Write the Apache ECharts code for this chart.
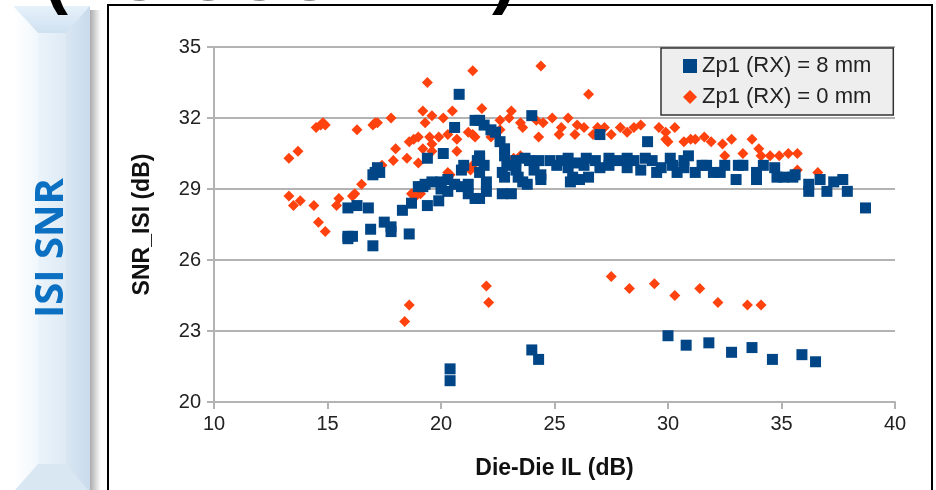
<!DOCTYPE html>
<html>
<head>
<meta charset="utf-8">
<script src="https://cdn.jsdelivr.net/npm/echarts@6/dist/echarts.min.js"></script>
<style>
html,body{margin:0;padding:0;background:#fff;}
#c{width:936px;height:490px;}
</style>
</head>
<body>
<div id="c"></div>
<script>
// ---- data (x = Die-Die IL dB, y = SNR_ISI dB) ----
var seriesNames = ['Zp1 (RX) = 8 mm', 'Zp1 (RX) = 0 mm'];
var xTicks = [10, 15, 20, 25, 30, 35, 40];
var yTicks = [20, 23, 26, 29, 32, 35];
var sideLabel = 'ISI SNR';
var titleText = '· (ZC SCUNNN)';
var xName = 'Die-Die IL (dB)';
var yName = 'SNR_ISI (dB)';

var zp8 = [
 [15.9,28.2],[16.3,28.3],[16.8,28.2],[18.3,28.1],[18.7,28.4],
 [15.9,27.0],[15.9,26.9],[16.1,27.0],[16.9,27.3],[17.0,26.6],
 [17.5,27.6],[17.8,27.4],[17.8,27.2],[18.6,27.1],
 [17.2,29.9],[17.1,29.7],[17.3,29.7],[17.0,29.6],
 [19.4,30.3],[20.1,30.5],
 [19.2,29.1],[19.0,29.1],[19.3,29.2],[19.6,29.3],[20.0,29.3],[20.3,29.4],
 [19.4,28.3],[19.9,28.5],[20.0,29.0],[20.3,28.9],
 [20.8,33.0],[21.5,31.9],[20.6,31.6],
 [21.0,30.0],[20.9,29.8],[21.6,30.2],[21.7,30.4],
 [20.6,29.2],[20.9,29.1],[21.2,29.2],[21.2,28.8],[21.5,28.6],[21.7,28.6],
 [21.7,31.9],[21.9,31.7],[22.2,31.5],[22.4,31.4],[24.0,32.1],
 [27.0,31.3],[29.1,31.0],
 [22.6,31.0],[22.8,30.7],
 [21.7,30.3],[21.9,30.0],[21.7,29.7],
 [22.8,30.4],[22.9,30.0],[22.7,29.7],[22.8,29.5],
 [23.3,30.2],[23.3,29.8],[23.4,29.5],[23.6,29.3],[23.8,29.2],[23.7,30.3],
 [23.9,30.2],[24.3,30.2],[24.1,29.8],[24.4,29.6],[24.4,29.4],
 [24.8,30.2],[25.1,30.0],[25.3,30.2],[25.6,30.3],[25.6,29.9],[25.7,29.3],[25.8,29.5],
 [26.0,30.1],[26.3,30.0],[26.4,30.3],[26.5,29.5],[26.1,29.4],
 [26.8,30.2],[27.0,29.9],[27.4,30.3],[27.4,30.0],[27.8,30.2],
 [28.2,30.3],[28.2,29.9],[28.5,30.2],[28.8,29.8],[29.0,30.3],[29.3,30.2],[29.5,29.7],[29.7,29.9],
 [30.1,30.3],[30.2,30.0],[30.4,29.7],[30.7,30.2],[30.9,30.4],[30.7,29.9],
 [31.2,29.7],[31.5,30.0],[31.7,30.0],[32.0,29.7],[32.3,29.7],[32.5,30.0],
 [33.0,29.4],[33.1,30.0],[33.3,30.0],[33.9,29.7],[34.2,30.0],[33.9,29.4],
 [34.7,29.9],[34.8,29.5],[35.1,29.5],[35.5,29.5],[35.6,29.6],
 [36.2,29.2],[36.2,28.9],[36.7,29.4],[37.0,28.9],[37.3,29.3],[37.7,29.4],[37.9,28.9],
 [38.7,28.2],
 [22.0,29.3],[22.7,28.8],[23.1,28.8],[22.0,28.9],
 [20.4,21.4],[20.4,20.9],[24.0,22.2],[24.3,21.8],[30.0,22.8],[30.8,22.4],[31.8,22.5],
 [32.8,22.1],[33.7,22.3],[34.6,21.8],[35.9,22.0],[36.5,21.7]
];

var zp0 = [
 [13.3,30.3],[13.7,30.6],[14.5,31.6],[14.7,31.7],[14.8,31.8],[14.9,31.7],
 [13.3,28.7],[13.5,28.3],[13.8,28.5],[14.4,28.3],[14.6,27.6],[14.9,27.2],
 [15.5,28.6],[15.4,28.3],[16.1,28.7],[16.2,28.8],[16.5,29.2],
 [16.3,31.5],[17.0,31.7],[17.1,31.8],[17.2,31.8],[17.8,32.0],
 [17.4,30.0],[17.9,30.2],[18.0,30.7],[18.5,30.3],
 [18.6,31.0],[18.8,31.1],[19.0,31.2],[19.0,30.1],[19.2,30.7],
 [19.4,33.5],[19.2,32.3],[19.3,31.8],[19.6,32.1],[20.1,32.0],
 [19.5,31.2],[19.6,30.9],[19.9,31.2],[20.3,31.3],[19.6,30.6],
 [18.7,28.8],[18.9,28.7],[19.1,28.8],[20.3,29.7],
 [21.4,34.0],[20.5,32.3],[21.8,32.4],
 [20.7,31.1],[20.7,30.6],[21.2,31.4],[21.5,31.2],[21.4,31.3],
 [22.2,31.2],[22.6,31.5],[22.6,31.9],[23.0,32.0],[23.1,32.3],[23.5,31.8],[23.6,31.6],
 [24.2,31.9],[24.5,31.8],[24.9,32.0],[24.3,31.2],
 [24.4,34.2],[26.5,33.0],
 [25.6,32.0],[25.3,31.6],[25.2,31.3],[26.0,31.7],[26.3,31.6],[25.9,31.3],[26.7,31.3],
 [26.9,31.6],[27.2,31.6],[27.5,31.3],[27.9,31.6],[28.2,31.4],[28.5,31.6],[28.8,31.7],
 [29.6,31.6],[29.9,31.1],[29.9,31.4],[30.3,31.6],[30.0,31.0],
 [30.7,31.0],[31.0,31.1],[31.2,31.1],[31.6,31.2],[31.9,31.0],[32.4,30.9],[32.5,30.4],
 [32.8,31.1],[33.3,30.5],[33.7,31.1],[34.0,30.7],[34.1,30.4],[34.5,30.4],[34.9,30.4],
 [35.3,30.5],[35.7,30.5],[35.7,29.8],[36.6,29.7],
 [23.5,30.4],[23.2,30.3],[21.6,30.2],[21.4,30.0],[21.3,29.8],[20.4,29.6],
 [18.4,23.4],[18.6,24.1],[22.0,24.9],[22.1,24.2],[27.5,25.3],[28.3,24.8],[29.4,25.0],
 [30.3,24.5],[31.4,24.8],[32.2,24.2],[33.5,24.1],[34.1,24.1]
];

var chart = echarts.init(document.getElementById('c'), null, {renderer: 'canvas'});
var gridCol = '#b3b3b3';
var option = {
  animation: false,
  backgroundColor: '#ffffff',
  grid: {left: 214, right: 41, top: 47, bottom: 88, containLabel: false},
  xAxis: {
    type: 'value', min: xTicks[0], max: xTicks[xTicks.length - 1], interval: 5,
    name: xName, nameLocation: 'middle', nameGap: 55,
    nameTextStyle: {fontFamily: 'Liberation Sans', fontWeight: 'bold', fontSize: 23, color: '#111'},
    axisLine: {show: true, lineStyle: {color: gridCol, width: 2}},
    axisTick: {show: true, length: 7, lineStyle: {color: gridCol, width: 2}},
    axisLabel: {fontFamily: 'Liberation Sans', fontSize: 20, color: '#222', margin: 12},
    splitLine: {show: false}
  },
  yAxis: {
    type: 'value', min: yTicks[0], max: yTicks[yTicks.length - 1], interval: 3,
    name: yName, nameLocation: 'middle', nameGap: 60, nameRotate: 90,
    nameTextStyle: {fontFamily: 'Liberation Sans', fontWeight: 'bold', fontSize: 23, color: '#111'},
    axisLine: {show: true, lineStyle: {color: gridCol, width: 2}},
    axisTick: {show: true, length: 7, lineStyle: {color: gridCol, width: 2}},
    axisLabel: {fontFamily: 'Liberation Sans', fontSize: 20, color: '#222', margin: 13},
    splitLine: {show: true, lineStyle: {color: gridCol, width: 2}}
  },
  legend: {
    orient: 'vertical', left: 661, top: 48,
    backgroundColor: '#eeeeee', borderColor: '#333333', borderWidth: 1.5, borderRadius: 0,
    padding: [7, 22, 7, 22], itemGap: 9, itemWidth: 14, itemHeight: 14,
    textStyle: {fontFamily: 'Liberation Sans', fontSize: 22, color: '#222', padding: [0, 0, 0, 0]},
    data: [{name: seriesNames[0], icon: 'rect'}, {name: seriesNames[1], icon: 'diamond'}]
  },
  series: [
    {name: seriesNames[0], type: 'scatter', data: zp8, symbol: 'rect', symbolSize: 11,
     itemStyle: {color: '#004586', opacity: 1}, z: 3},
    {name: seriesNames[1], type: 'scatter', data: zp0, symbol: 'diamond', symbolSize: 11,
     itemStyle: {color: '#ff420e', opacity: 1}, z: 2}
  ],
  graphic: [
    // clipped big title at the very top
    {type: 'text', left: 0, top: -56, z: 10,
     style: {text: titleText, fontFamily: 'Liberation Sans', fontWeight: 'bold', fontSize: 72, fill: '#000', letterSpacing: 26}},
    // chart frame
    {type: 'rect', shape: {x: 108, y: 5, width: 824, height: 492}, z: 0,
     style: {fill: 'none', stroke: '#000', lineWidth: 2}},
    // sidebar shadow
    {type: 'rect', shape: {x: 89, y: 10, width: 12, height: 482}, z: 0,
     style: {fill: new echarts.graphic.LinearGradient(0, 0, 1, 0, [
       {offset: 0, color: 'rgba(90,90,90,0.55)'}, {offset: 1, color: 'rgba(90,90,90,0)'}])}},
    // sidebar face
    {type: 'rect', shape: {x: 13, y: 6, width: 77, height: 486}, z: 1,
     style: {fill: new echarts.graphic.LinearGradient(0, 0, 1, 0, [
       {offset: 0, color: '#fbfdff'}, {offset: 0.35, color: '#eaf3fa'}, {offset: 1, color: '#d3e2ef'}])}},
    // bevels
    {type: 'polygon', z: 2, shape: {points: [[13, 6], [90, 6], [66, 33], [38, 33]]},
     style: {fill: new echarts.graphic.LinearGradient(0, 0, 0, 1, [
       {offset: 0, color: '#e6f1fa'}, {offset: 1, color: '#cfe1f1'}])}},
    {type: 'polygon', z: 2, shape: {points: [[13, 492], [90, 492], [66, 464], [38, 464]]},
     style: {fill: '#d9e7f3'}},
    {type: 'polygon', z: 2, shape: {points: [[13, 6], [38, 33], [38, 464], [13, 492]]},
     style: {fill: new echarts.graphic.LinearGradient(0, 0, 1, 0, [
       {offset: 0, color: '#ffffff'}, {offset: 1, color: '#f1f7fc'}])}},
    {type: 'polygon', z: 2, shape: {points: [[90, 6], [66, 33], [66, 464], [90, 492]]},
     style: {fill: new echarts.graphic.LinearGradient(0, 0, 1, 0, [
       {offset: 0, color: '#d9e6f2'}, {offset: 1, color: '#c9dbeb'}])}},
    // sidebar label
    {type: 'text', z: 5, x: 52, y: 248, rotation: Math.PI / 2,
     style: {text: sideLabel, fontFamily: 'Open Sans', fontWeight: 'bold', fontSize: 40,
             fill: '#0b70c2', align: 'center', verticalAlign: 'middle'}}
  ]
};
chart.setOption(option);
</script>
</body>
</html>
